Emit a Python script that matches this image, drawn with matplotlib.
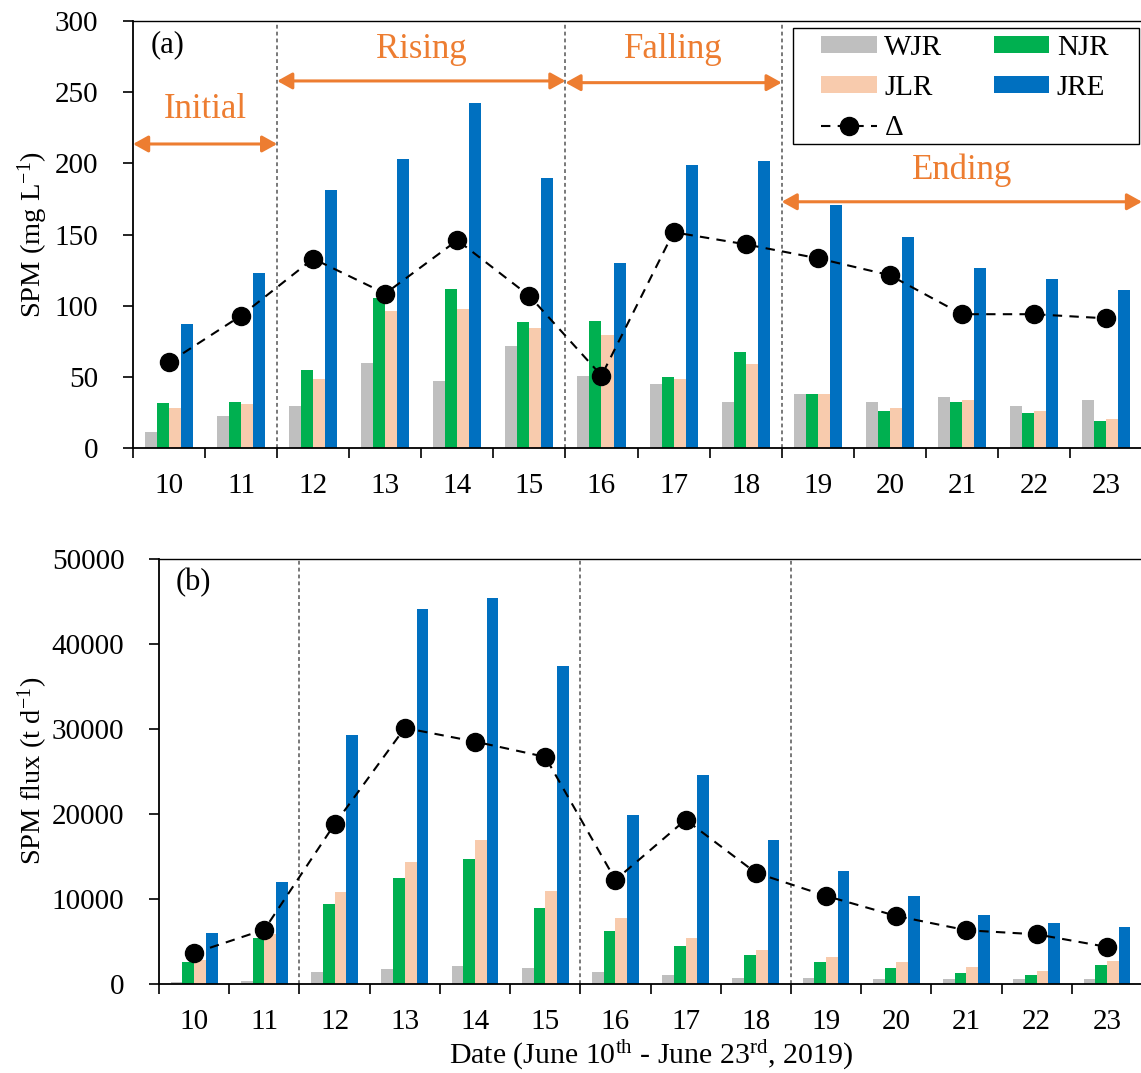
import matplotlib
matplotlib.use("Agg")
from matplotlib import pyplot as plt
from matplotlib.patches import Rectangle
import numpy as np

plt.rcParams['font.family'] = ['Liberation Serif', 'DejaVu Serif']
plt.rcParams['mathtext.fontset'] = 'custom'
plt.rcParams['mathtext.rm'] = 'Liberation Serif'
plt.rcParams['mathtext.it'] = 'Liberation Serif:italic'

# data
dates = ['10', '11', '12', '13', '14', '15', '16', '17', '18', '19', '20', '21', '22', '23']
series = ['WJR', 'NJR', 'JLR', 'JRE']
colors = ['#BFBFBF', '#00B050', '#F8CBAD', '#0070C0']

# (a) SPM concentration, mg/L
spm_wjr = [11.5, 22.5, 29.7, 60, 47.3, 71.7, 50.6, 45.2, 32.5, 38, 32.3, 36, 29.7, 33.5]
spm_njr = [31.4, 32.3, 54.6, 105.6, 112, 88.3, 89.2, 49.9, 67.5, 38, 26.2, 32.3, 24.4, 18.8]
spm_jlr = [27.9, 30.7, 48.7, 96.3, 97.5, 84.6, 79.4, 48.3, 59, 38, 28.1, 33.5, 26, 20.6]
spm_jre = [87.4, 123, 181.3, 203.3, 242.7, 189.5, 130.2, 198.9, 201.5, 170.5, 148.5, 126.7, 118.5, 111]
spm_delta = [60.2, 93, 133, 108.5, 146, 106.8, 50.8, 151.6, 143.1, 133.3, 121.4, 94, 94, 91.1]

# (b) SPM flux, t/d
flux_wjr = [200, 360, 1400, 1720, 2080, 1880, 1400, 960, 640, 640, 560, 560, 560, 560]
flux_njr = [2520, 5400, 9400, 12480, 14720, 8880, 6160, 4480, 3400, 2520, 1880, 1280, 1000, 2240]
flux_jlr = [2800, 5880, 10760, 14320, 16880, 10920, 7720, 5400, 4000, 3160, 2520, 1920, 1440, 2680]
flux_jre = [6000, 12000, 29240, 44120, 45320, 37360, 19800, 24560, 16880, 13200, 10320, 8040, 7080, 6680]
flux_delta = [3600, 6360, 18760, 30080, 28480, 26680, 12200, 19280, 13040, 10320, 7960, 6280, 5800, 4320]

# stage boundaries (between dates) and labels
bounds = [1.5, 5.5, 8.5]
stages = ['Initial', 'Rising', 'Falling', 'Ending']
stage_span = [(-0.5, 1.5), (1.5, 5.5), (5.5, 8.5), (8.5, 13.5)]
arrow_y = [213.6, 257.9, 256.7, 173]
label_y = [237.5, 280, 280, 195]
orange = '#ED7D31'

x = np.arange(len(dates))
w = 1 / 6


def draw_panel(ax, vals, delta, ylim, step, ylabel, tag):
    for i, (v, c, name) in enumerate(zip(vals, colors, series)):
        ax.bar(x + (i - 1.5) * w, v, width=w, color=c, label=name, zorder=2)
    ax.plot(x, delta, color='black', lw=1.5, dashes=(4.5, 3.5), marker='o',
            markersize=13, label='Δ', zorder=4)
    for b in bounds:
        ax.axvline(b, color='#555555', lw=1.1, dashes=(2.5, 2), zorder=1)
    ax.set_xlim(-0.5, 13.5)
    ax.set_ylim(0, ylim)
    ax.set_yticks(np.arange(0, ylim + 1, step))
    ax.set_xticks(np.arange(-0.5, 14, 1))
    ax.set_xticklabels([])
    ax.set_xticks(x, minor=True)
    ax.set_xticklabels(dates, minor=True)
    ax.tick_params(axis='x', which='major', direction='out', length=7, width=1.2)
    ax.tick_params(axis='x', which='minor', length=0, pad=18, labelsize=21)
    ax.tick_params(axis='y', direction='out', length=7, width=1.2, pad=18, labelsize=21)
    ax.spines['right'].set_visible(False)
    ax.spines['top'].set_linewidth(1.0)
    ax.spines['left'].set_linewidth(1.3)
    ax.spines['bottom'].set_linewidth(1.3)
    ax.set_ylabel(ylabel, fontsize=20.5)
    ax.text(0.017, 0.945, tag, transform=ax.transAxes, fontsize=22, va='center')


fig = plt.figure(figsize=(11.41, 10.73), dpi=100)
ax1 = fig.add_axes([0.1166, 0.5825, 0.8843, 0.3979])
ax2 = fig.add_axes([0.1394, 0.0833, 0.8615, 0.3960])

draw_panel(ax1, [spm_wjr, spm_njr, spm_jlr, spm_jre], spm_delta, 300, 50,
           'SPM (mg L$^{\\mathrm{-1}}$)', '(a)')
draw_panel(ax2, [flux_wjr, flux_njr, flux_jlr, flux_jre], flux_delta, 50000, 10000,
           'SPM flux (t d$^{\\mathrm{-1}}$)', '(b)')
ax1.yaxis.set_label_coords(-0.082, 0.5)
ax2.yaxis.set_label_coords(-0.111, 0.5)

for name, (x0, x1), ya, yl in zip(stages, stage_span, arrow_y, label_y):
    ax1.annotate('', xy=(x1, ya), xytext=(x0, ya), annotation_clip=False,
                 arrowprops=dict(arrowstyle='<|-|>,head_length=0.45,head_width=0.25',
                                 color=orange, lw=2.2, mutation_scale=20,
                                 shrinkA=0, shrinkB=0), zorder=5)
    ax1.text((x0 + x1) / 2, yl, name, color=orange, fontsize=25,
             ha='center', va='center')

# legend: frame drawn separately so the padding can match
ax1.add_patch(Rectangle((0.654, 0.712), 0.343, 0.272, transform=ax1.transAxes,
                        facecolor='white', edgecolor='black', lw=1.0,
                        zorder=6, clip_on=False))
h, l = ax1.get_legend_handles_labels()
order = [1, 3, 0, 2, 4]  # WJR, JLR, Δ | NJR, JRE
leg = ax1.legend([h[i] for i in order], [l[i] for i in order], ncol=2,
                 loc='upper left', bbox_to_anchor=(0.682, 0.967), fontsize=21,
                 frameon=False, borderpad=0, borderaxespad=0,
                 handlelength=1.9, handleheight=0.5, handletextpad=0.27,
                 columnspacing=1.75, labelspacing=0.48)
leg.set_zorder(7)

ax2.set_xlabel('Date (June 10$^{\\mathrm{th}}$ - June 23$^{\\mathrm{rd}}$, 2019)',
               fontsize=21.5, labelpad=3)

fig.savefig('out.png', dpi=100)
